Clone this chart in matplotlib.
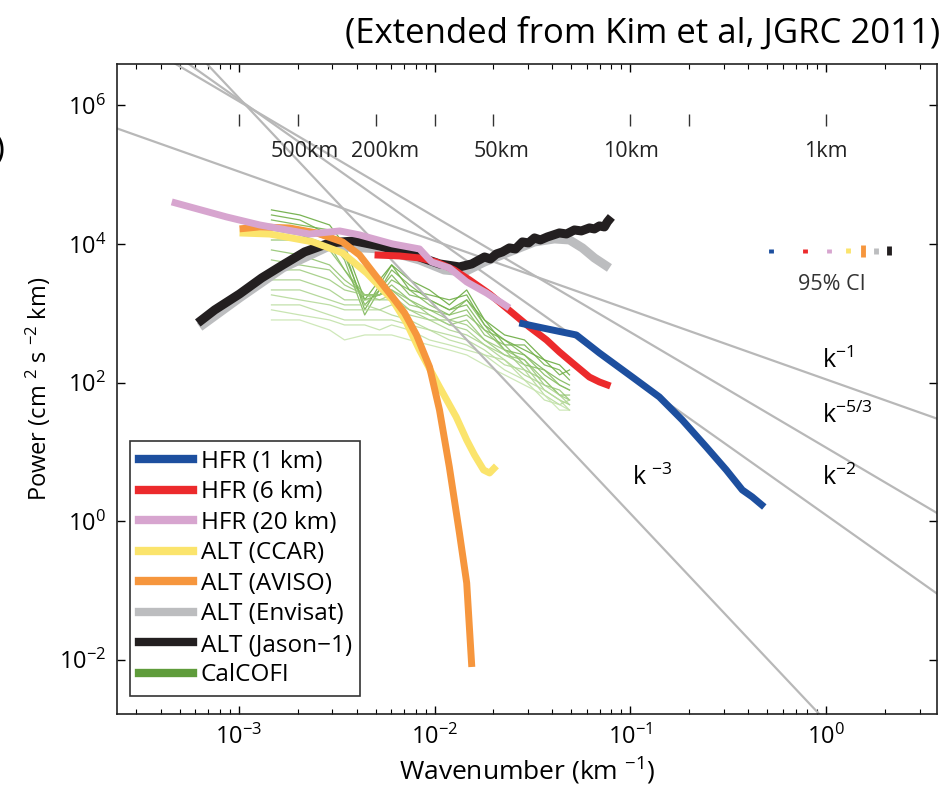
import matplotlib.pyplot as plt
from matplotlib.colors import LinearSegmentedColormap
from matplotlib.lines import Line2D
from matplotlib.ticker import FixedLocator, NullLocator

plt.rcParams['font.family'] = ['Open Sans', 'DejaVu Sans']
plt.rcParams['mathtext.fontset'] = 'custom'
plt.rcParams['mathtext.rm'] = 'Open Sans'
plt.rcParams['mathtext.it'] = 'Open Sans'
plt.rcParams['mathtext.bf'] = 'Open Sans'
plt.rcParams['mathtext.default'] = 'regular'

# wavenumber (1/km) and power (cm^2 s^-2 km)
hfr1_k = [2.71e-2, 3.56e-2, 5.30e-2, 6.95e-2, 0.1024, 0.1406, 0.184, 0.244, 0.309, 0.373, 0.419, 0.483]
hfr1_p = [724, 614, 486, 267, 120, 62, 28.9, 11.8, 5.48, 2.82, 2.24, 1.60]

hfr6_k = [4.94e-3, 6.63e-3, 8.38e-3, 1.02e-2, 1.26e-2, 1.51e-2, 1.91e-2, 2.50e-2, 3.05e-2,
          3.73e-2, 4.34e-2, 5.06e-2, 6.18e-2, 6.95e-2, 7.91e-2]
hfr6_p = [6940, 6710, 6280, 5500, 4215, 3024, 1899, 1010, 634, 412, 277, 192, 120, 102, 89]

hfr20_k = [4.55e-4, 8.68e-4, 1.28e-3, 2.30e-3, 3.28e-3, 4.14e-3, 6.10e-3, 8.38e-3, 9.66e-3,
           1.19e-2, 1.46e-2, 1.84e-2, 2.41e-2]
hfr20_p = [40400, 24500, 18800, 13900, 15400, 13500, 10000, 8470, 5500, 4505, 2830, 1963, 1193]

ccar_k = [1.01e-3, 1.44e-3, 2.39e-3, 3.39e-3, 4.50e-3, 6.10e-3, 7.20e-3, 8.38e-3, 1.06e-2,
          1.29e-2, 1.46e-2, 1.60e-2, 1.78e-2, 1.91e-2, 2.07e-2]
ccar_p = [14400, 13900, 10700, 7420, 3815, 1560, 724, 295, 86.4, 31.9, 14.8, 9.02, 5.48, 4.96, 6.26]

aviso_k = [1.01e-3, 1.28e-3, 1.82e-3, 2.50e-3, 3.39e-3, 4.14e-3, 5.06e-3, 6.10e-3, 7.03e-3,
           8.09e-3, 9.43e-3, 1.06e-2, 1.19e-2, 1.34e-2, 1.46e-2, 1.55e-2]
aviso_p = [16500, 17600, 17000, 14400, 10700, 6940, 3340, 1718, 1010, 486, 168, 40.2, 6.06,
           0.675, 0.128, 7.87e-3]

envisat_k = [6.32e-4, 1.01e-3, 1.68e-3, 2.91e-3, 5.24e-3, 8.38e-3, 1.12e-2, 1.42e-2, 1.80e-2,
             2.41e-2, 3.24e-2, 4.09e-2, 4.89e-2, 5.69e-2, 6.55e-2, 7.82e-2]
envisat_p = [634, 1663, 4505, 9360, 8470, 5875, 4215, 3945, 5500, 7670, 10690, 11810, 11420,
             8760, 6280, 4505]

jason_k = [6.18e-4, 7.54e-4, 1.01e-3, 1.31e-3, 1.68e-3, 2.17e-3, 2.91e-3, 3.91e-3, 5.24e-3,
           6.63e-3, 8.38e-3, 1.06e-2, 1.34e-2, 1.55e-2, 1.80e-2, 1.93e-2, 2.07e-2, 2.22e-2,
           2.41e-2, 2.59e-2, 2.81e-2, 3.02e-2, 3.24e-2, 3.47e-2, 3.77e-2, 4.05e-2, 4.34e-2,
           4.72e-2, 5.18e-2, 5.62e-2, 6.18e-2, 6.55e-2, 6.95e-2, 7.37e-2, 7.63e-2, 8.00e-2]
jason_p = [724, 1117, 1899, 3230, 4980, 7670, 10340, 11050, 9360, 7930, 6490, 5150, 4660, 5150,
           6490, 6075, 7170, 7670, 8760, 8470, 10690, 10340, 12210, 11420, 12620, 13490, 14420,
           13940, 15920, 15410, 17020, 16460, 18190, 17600, 20780, 24530]

calcofi_k = [1.47e-3, 2.05e-3, 2.91e-3, 3.47e-3, 4.40e-3, 5.24e-3, 6.04e-3, 7.45e-3, 9.42e-3,
             1.19e-2, 1.46e-2, 1.80e-2, 2.28e-2, 2.88e-2, 3.64e-2, 4.35e-2, 4.89e-2]
calcofi_p = [
    [31000, 26200, 18800, 9680, 1560, 3030, 4980, 3030, 2170, 1320, 2170, 800, 486, 412, 212, 180, 129],
    [26200, 22200, 13500, 8190, 1120, 2560, 4980, 2170, 1840, 1560, 1840, 678, 412, 295, 212, 129, 152],
    [22200, 18800, 15900, 6940, 1320, 2170, 4220, 2560, 1560, 1120, 1560, 800, 349, 349, 180, 152, 109],
    [18800, 15900, 11400, 5880, 945, 2170, 3570, 1840, 1560, 1120, 1320, 574, 412, 250, 152, 109, 92],
    [15900, 13500, 9680, 4220, 1560, 1840, 3030, 2170, 1320, 945, 1560, 678, 295, 250, 129, 92, 78],
    [11400, 11400, 8190, 4220, 1840, 1840, 2560, 1560, 1120, 945, 1120, 486, 349, 180, 152, 92, 78],
    [8190, 6940, 4980, 3030, 1840, 1840, 2170, 1320, 1120, 800, 945, 574, 295, 212, 109, 66, 66],
    [5880, 4980, 4220, 2560, 1840, 1840, 2170, 1560, 945, 678, 800, 412, 250, 212, 92, 78, 56],
    [4220, 4220, 3030, 2170, 1840, 1560, 1840, 1120, 800, 800, 678, 412, 295, 152, 109, 66, 56],
    [3030, 3030, 2170, 1560, 1560, 1560, 1560, 1120, 945, 678, 574, 349, 250, 180, 78, 56, 48],
    [2170, 2170, 1560, 1320, 1320, 1120, 1320, 945, 800, 574, 486, 349, 212, 129, 92, 66, 48],
    [1840, 1560, 1320, 1120, 1120, 1120, 945, 800, 574, 486, 412, 295, 180, 152, 66, 48, 56],
    [1320, 1320, 945, 800, 800, 800, 800, 678, 574, 412, 349, 250, 212, 109, 78, 56, 40],
    [1120, 945, 800, 678, 678, 574, 678, 574, 412, 349, 295, 250, 152, 109, 56, 48, 40],
    [800, 800, 574, 412, 486, 486, 486, 412, 349, 295, 250, 180, 129, 92, 66, 40, 40],
]

# reference power laws: P = amp * k^(-slope)
law_labels = ['k${}^{-1}$', 'k${}^{-5/3}$', 'k${}^{-2}$', 'k ${}^{-3}$']
law_slope = [1, 5 / 3, 2, 3]
law_amp = [111, 11.5, 1.22, 1.29e-3]
law_k_range = [2e-4, 5]

# 95% confidence bars (same order as legend, without CalCOFI)
ci_k = [0.524, 0.782, 1.04, 1.30, 1.55, 1.80, 2.10]
ci_lo = [7420, 7420, 7420, 7290, 6500, 7200, 6830]
ci_hi = [8480, 8480, 8480, 8620, 9680, 8740, 9200]

# length scale marks (1/km) and labels
scale_tick_k = [1 / 1000, 1 / 500, 1 / 200, 1 / 100, 1 / 50, 1 / 10, 1 / 5, 1]
scale_labels = ['500km', '200km', '50km', '10km', '1km']
scale_label_k = [2.17e-3, 5.62e-3, 2.20e-2, 0.101, 0.99]

y_ticks = [1e-2, 1e0, 1e2, 1e4, 1e6]

c_blue = '#1d4f9f'
c_red = '#ec2a2c'
c_pink = '#d7a5cf'
c_yellow = '#fbe46c'
c_orange = '#f6963d'
c_gray = '#bcbdbf'
c_black = '#231f20'
c_green = '#5f9c3b'

fig = plt.figure(figsize=(9.45, 7.95), dpi=100)
ax = fig.add_axes([0.1238, 0.1019, 0.8677, 0.8176])
ax.set_xscale('log')
ax.set_yscale('log')

greens = LinearSegmentedColormap.from_list('cg', ['#62a636', '#c6e4ad'])
n = len(calcofi_p)
for i, row in enumerate(calcofi_p):
    ax.plot(calcofi_k, row, color=greens(i / (n - 1)), lw=0.9, alpha=0.85, zorder=1)

for amp, s in zip(law_amp, law_slope):
    ax.plot(law_k_range, [amp * law_k_range[0] ** (-s), amp * law_k_range[1] ** (-s)],
            color='#b8b8b8', lw=1.6, zorder=2)

lw = 5
ax.plot(envisat_k, envisat_p, color=c_gray, lw=6.5, solid_capstyle='butt', zorder=3)
ax.plot(jason_k, jason_p, color=c_black, lw=6.5, solid_capstyle='butt', zorder=4)
ax.plot(ccar_k, ccar_p, color=c_yellow, lw=lw, solid_capstyle='butt', zorder=5)
ax.plot(aviso_k, aviso_p, color=c_orange, lw=lw, solid_capstyle='butt', zorder=6)
ax.plot(hfr6_k, hfr6_p, color=c_red, lw=lw, solid_capstyle='butt', zorder=7)
ax.plot(hfr20_k, hfr20_p, color=c_pink, lw=lw, solid_capstyle='butt', zorder=8)
ax.plot(hfr1_k, hfr1_p, color=c_blue, lw=lw, solid_capstyle='butt', zorder=9)

ci_colors = [c_blue, c_red, c_pink, c_yellow, c_orange, c_gray, c_black]
ax.vlines(ci_k, ci_lo, ci_hi, colors=ci_colors, lw=3.5, zorder=10)
ax.text(1.07, 2560, '95% CI', ha='center', va='center', fontsize=15.5, color='#333333')

ax.vlines(scale_tick_k, 5.05e5, 7.5e5, colors='#333333', lw=1)
for lab, kk in zip(scale_labels, scale_label_k):
    ax.text(kk, 2.13e5, lab, ha='center', va='center', fontsize=15.5, color='#222222')

ax.text(0.954, 205, law_labels[0], ha='left', va='center', fontsize=18)
ax.text(0.954, 33, law_labels[1], ha='left', va='center', fontsize=18)
ax.text(0.954, 4.2, law_labels[2], ha='left', va='center', fontsize=18)
ax.text(0.1023, 4.2, law_labels[3], ha='left', va='center', fontsize=18)

ax.set_xlim(2.39e-4, 3.68)
ax.set_ylim(1.65e-3, 3.95e6)
ax.yaxis.set_major_locator(FixedLocator(y_ticks))
ax.yaxis.set_minor_locator(NullLocator())
ax.tick_params(which='both', direction='in', top=True, right=True, labelsize=17, pad=8)
ax.tick_params(which='major', length=6, width=1)
ax.tick_params(which='minor', length=3.5, width=0.8)
for sp in ax.spines.values():
    sp.set_linewidth(1.2)
    sp.set_color('#222222')

ax.set_xlabel('Wavenumber (km ${}^{-1}$)', fontsize=19, labelpad=4)
ax.set_ylabel('Power (cm ${}^{2}$ s ${}^{-2}$ km)', fontsize=17, labelpad=4)

handles = [Line2D([], [], color=c, lw=6) for c in
           [c_blue, c_red, c_pink, c_yellow, c_orange, c_gray, c_black, c_green]]
names = ['HFR (1 km)', 'HFR (6 km)', 'HFR (20 km)', 'ALT (CCAR)', 'ALT (AVISO)',
         'ALT (Envisat)', 'ALT (Jason\u22121)', 'CalCOFI']
leg = ax.legend(handles, names, loc='lower left', bbox_to_anchor=(0.0159, 0.0277),
                borderaxespad=0, fontsize=17.5, handlelength=2.25, handletextpad=0.3,
                labelspacing=0.27, borderpad=0.35, fancybox=False, framealpha=1)
leg.get_frame().set_edgecolor('#333333')
leg.get_frame().set_linewidth(1.2)

fig.text(0.995, 0.958, '(Extended from Kim et al, JGRC 2011)', ha='right', va='center',
         fontsize=25)
fig.text(-0.006, 0.811, ')', ha='left', va='center', fontsize=24)

fig.savefig('out.png', dpi=100)
